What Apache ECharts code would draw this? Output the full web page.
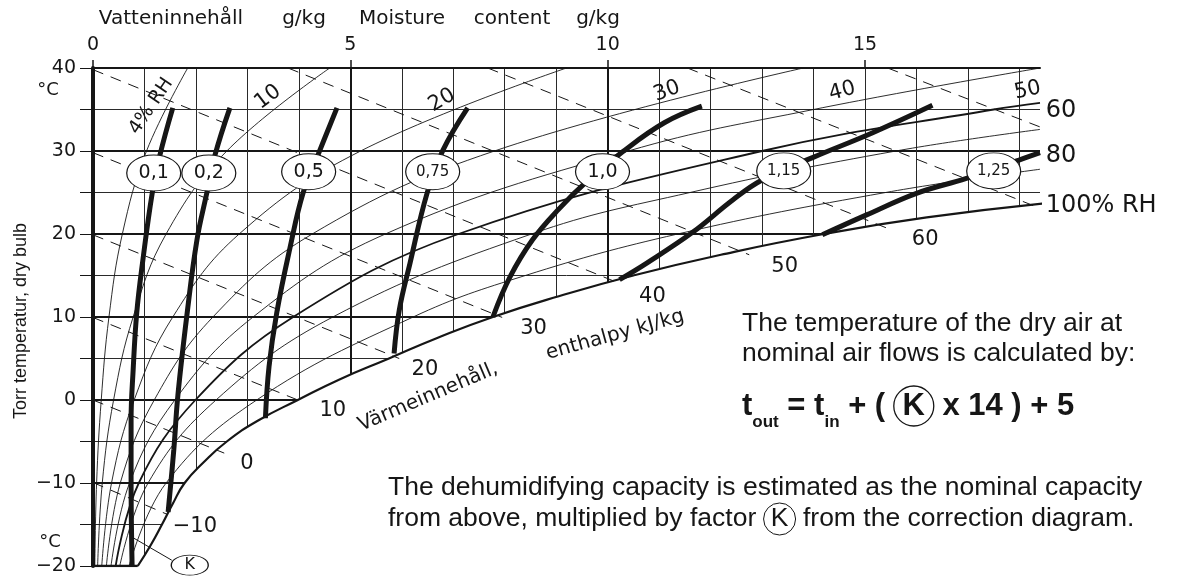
<!DOCTYPE html>
<html>
<head>
<meta charset="utf-8">
<title>Correction diagram</title>
<script src="https://cdn.jsdelivr.net/npm/echarts@6/dist/echarts.min.js"></script>
<style>
  html, body { margin: 0; padding: 0; background: #fff; }
  #main { width: 1179px; height: 580px; }
</style>
</head>
<body>
<div id="main"></div>
<script>
// x = moisture content g/kg, y = dry bulb temperature °C
var xTicks = [0, 5, 10, 15];

// 100 % RH curve
var saturation = [[0.87, -20], [1.12, -17.5], [1.34, -15], [1.55, -12.5], [1.78, -10], [2.15, -7.5], [2.6, -5], [3.2, -2.5],
  [3.98, 0], [4.8, 2.5], [5.75, 5], [6.7, 7.5], [7.77, 10], [9.05, 12.5], [10.5, 15], [12.2, 17.5], [14.2, 20], [16.2, 22], [18.5, 23.7]];

// relative humidity curves
var rhNames = ['4', '10', '20', '30', '40', '50', '60', '80'];
var rh4  = [[0.035, -20], [0.07, -10], [0.16, 0], [0.31, 10], [0.57, 20], [1.04, 30], [1.84, 40]];
var rh10 = [[0.09, -20], [0.18, -10], [0.40, 0], [0.78, 10], [1.42, 20], [2.6, 30], [4.6, 40]];
var rh20 = [[0.17, -20], [0.36, -10], [0.80, 0], [1.55, 10], [2.84, 20], [5.2, 30], [9.2, 40]];
var rh30 = [[0.26, -20], [0.53, -10], [1.19, 0], [2.33, 10], [4.26, 20], [7.8, 30], [13.8, 40]];
var rh40 = [[0.35, -20], [0.71, -10], [1.59, 0], [3.11, 10], [5.68, 20], [10.4, 30], [14.0, 35], [18.4, 40]];
var rh50 = [[0.44, -20], [0.89, -10], [1.99, 0], [3.89, 10], [7.1, 20], [13.0, 30], [17.5, 35], [18.4, 35.8]];
var rh60 = [[0.52, -20], [1.07, -10], [2.39, 0], [4.66, 10], [8.52, 20], [11.6, 25], [15.6, 30], [18.4, 32.6]];
var rh80 = [[0.70, -20], [1.42, -10], [3.18, 0], [6.22, 10], [8.4, 15], [11.36, 20], [15.4, 25], [18.4, 27.8]];
var rhCurves = [rh4, rh10, rh20, rh30, rh40, rh50, rh60, rh80];

// enthalpy kJ/kg, dashed lines
var enthalpy = [-10, 0, 10, 20, 30, 40, 50, 60, 70, 80];
var enthalpyFrom = [[0, -9.94], [0, 0], [0, 9.94], [0, 19.9], [0, 29.8], [0, 39.8], [3.79, 40], [7.67, 40], [11.55, 40], [15.44, 40]];
var enthalpyTo = [[1.45, -13.8], [2.55, -6.4], [4.1, -0.3], [5.95, 5.0], [7.95, 9.95], [10.25, 14.0], [12.75, 17.5], [15.45, 20.65], [18.4, 23.1], [18.4, 32.9]];

// correction factor K curves
var kNames = ['0,1', '0,2', '0,5', '0,75', '1,0', '1,15', '1,25'];
var k01  = [[1.55, 35.2], [1.30, 29.5], [1.15, 24.9], [0.97, 16.9], [0.85, 10.5], [0.78, 3.6], [0.74, -2.4], [0.74, -9.6], [0.76, -20]];
var k02  = [[2.66, 35.2], [2.37, 29.5], [2.21, 24.9], [2.02, 19.3], [1.83, 10.5], [1.65, 0.6], [1.57, -6.0], [1.46, -13.5]];
var k05  = [[4.74, 35.2], [4.37, 29.5], [4.08, 24.9], [3.83, 18.4], [3.57, 10.5], [3.42, 4.0], [3.35, -2.2]];
var k075 = [[7.28, 35.2], [6.80, 30.1], [6.49, 24.9], [6.16, 16.5], [5.95, 10.8], [5.85, 5.6]];
var k10  = [[11.83, 35.4], [11.1, 33.4], [10.29, 29.9], [9.59, 26.3], [9.05, 23.0], [8.54, 19.3], [8.10, 14.8], [7.77, 10.0]];
var k115 = [[16.31, 35.5], [15.15, 32.2], [13.98, 29.2], [13.0, 26.5], [12.43, 24.1], [11.65, 20.2], [10.76, 16.5], [10.23, 14.5]];
var k125 = [[14.17, 19.9], [15.03, 22.3], [16.0, 24.9], [16.97, 26.7], [17.99, 28.9], [18.4, 29.8]];
var kCurves = [k01, k02, k05, k075, k10, k115, k125];

// ---- annotation layout (data coordinates) ----
var kLabelAt = [[1.18, 27.35], [2.25, 27.35], [4.19, 27.5], [6.60, 27.5], [9.90, 27.5], [13.42, 27.6], [17.50, 27.6]];
var enthalpyLabelAt = [[1.98, -15.2], [2.99, -7.6], [4.66, -1.3], [6.45, 3.7], [8.56, 8.55], [10.87, 12.5], [13.44, 16.1], [16.17, 19.3]];
var rhLabels = [
  { t: '4% RH', at: [1.13, 35.4], rot: 56, size: 19 },
  { t: '10', at: [3.40, 36.5], rot: 37, size: 21 },
  { t: '20', at: [6.78, 36.1], rot: 30, size: 21 },
  { t: '30', at: [11.15, 37.2], rot: 20, size: 21 },
  { t: '40', at: [14.56, 37.2], rot: 15, size: 21 },
  { t: '50', at: [18.16, 37.3], rot: 12, size: 21 }
];
var rhEdgeLabels = [
  { t: '60', at: [18.5, 34.9], size: 24 },
  { t: '80', at: [18.5, 29.4], size: 24 },
  { t: '100% RH', at: [18.5, 23.4], size: 24 }
];

var tickFont = '"DejaVu Sans", sans-serif';
var textFont = '"Liberation Sans", Arial, sans-serif';
var ink = '#161616';

var series = [];

rhCurves.forEach(function (c, i) {
  series.push({
    type: 'line', name: rhNames[i] + '% RH', data: c, smooth: 0.4, symbol: 'none', z: 2, silent: true,
    lineStyle: { color: ink, width: rhNames[i] === '50' ? 1.8 : 0.9 }
  });
});

// saturation curve, white underneath so the grid stops at it
series.push({
  type: 'line', name: '100% RH', data: saturation, smooth: 0.5, symbol: 'none', z: 3, silent: true,
  lineStyle: { color: ink, width: 2.2 },
  areaStyle: { color: '#fff', opacity: 1, origin: 'start' }
});
series.push({
  type: 'line', data: [[0, -20], [saturation[0][0], -20]], symbol: 'none', z: 3, silent: true,
  lineStyle: { color: ink, width: 2.5 }
});

enthalpy.forEach(function (h, i) {
  series.push({
    type: 'line', name: 'h' + h, data: [enthalpyFrom[i], enthalpyTo[i]], symbol: 'none', z: 4, silent: true,
    lineStyle: { color: ink, width: 1, type: [11, 8] }
  });
});

kCurves.forEach(function (c, i) {
  series.push({
    type: 'line', name: 'K ' + kNames[i], data: c, smooth: 0.4, symbol: 'none', z: 5, silent: true,
    lineStyle: { color: ink, width: 5 }
  });
});

// leader from the 0,1 curve to the K mark
series.push({
  type: 'line', data: [[0.78, -16.6], [1.53, -19.3]], symbol: 'none', z: 5, silent: true,
  lineStyle: { color: ink, width: 1 }
});

series.push({
  type: 'scatter', z: 6, silent: true, clip: false,
  symbol: 'circle',
  itemStyle: { color: '#fff', borderColor: ink, borderWidth: 1, opacity: 1 },
  data: kNames.map(function (n, i) {
    return {
      name: n, value: kLabelAt[i], symbolSize: [54, 36],
      label: { fontSize: n.length > 3 ? 15 : 19 }
    };
  }).concat([{ name: 'K', value: [1.88, -19.9], symbolSize: [37, 20], label: { fontSize: 16 } }]),
  label: { show: true, position: 'inside', formatter: '{b}', color: ink, fontFamily: tickFont }
});

function textScatter(items, align) {
  return {
    type: 'scatter', z: 7, silent: true, clip: false, symbolSize: 1,
    itemStyle: { color: 'rgba(0,0,0,0)', opacity: 1 },
    data: items.map(function (d) {
      return { name: d.t, value: d.at, label: { rotate: d.rot || 0, fontSize: d.size || 21 } };
    }),
    label: {
      show: true, position: align === 'left' ? 'right' : 'inside', distance: 0, formatter: '{b}',
      color: ink, fontFamily: tickFont, fontSize: 21
    }
  };
}

series.push(textScatter(rhLabels));
series.push(textScatter(rhEdgeLabels, 'left'));
series.push(textScatter(enthalpy.slice(0, enthalpyLabelAt.length).map(function (h, i) {
  return { t: h < 0 ? '\u2212' + (-h) : String(h), at: enthalpyLabelAt[i] };
})));

function txt(x, y, s, size, opt) {
  opt = opt || {};
  return {
    type: 'text', x: x, y: y, rotation: opt.rot || 0, silent: true, z: 10,
    style: {
      text: s, fill: ink,
      font: (opt.weight || 'normal') + ' ' + size + 'px ' + (opt.family || tickFont),
      textAlign: opt.align || 'left', textVerticalAlign: 'middle',
      rich: opt.rich
    }
  };
}

var deg = Math.PI / 180;

var graphics = [
  txt(171, 19, 'Vatteninnehåll', 20, { align: 'center' }),
  txt(304, 19, 'g/kg', 20, { align: 'center' }),
  txt(402, 19, 'Moisture', 20, { align: 'center' }),
  txt(512, 19, 'content', 20, { align: 'center' }),
  txt(598, 19, 'g/kg', 20, { align: 'center' }),
  txt(48, 90, '°C', 18, { align: 'center' }),
  txt(50, 542, '°C', 18, { align: 'center' }),
  txt(21, 321, 'Torr temperatur, dry bulb', 18, { align: 'center', family: textFont, rot: 90 * deg }),
  txt(428, 397, 'Värmeinnehåll,', 20, { align: 'center', rot: 23 * deg }),
  txt(615, 335, 'enthalpy kJ/kg', 20, { align: 'center', rot: 15.5 * deg }),
  txt(742, 324, 'The temperature of the dry air at', 26.5, { family: textFont }),
  txt(742, 354, 'nominal air flows is calculated by:', 26.5, { family: textFont }),
  txt(742, 406, '{m|t}{s|out}{m| = t}{s|in}{m| + ( }{k|K}{m| x 14 ) + 5}', 31, {
    weight: 'bold', family: textFont,
    rich: {
      m: { fontSize: 31, fontWeight: 'bold', fontFamily: textFont, lineHeight: 34 },
      s: { fontSize: 17, fontWeight: 'bold', fontFamily: textFont, lineHeight: 50, verticalAlign: 'bottom' },
      k: { fontSize: 31, fontWeight: 'bold', fontFamily: textFont, width: 40, height: 40, lineHeight: 40,
           borderRadius: 20, borderWidth: 1.3, borderColor: ink, align: 'center' }
    }
  }),
  txt(388, 488, 'The dehumidifying capacity is estimated as the nominal capacity', 26.5, { family: textFont }),
  txt(388, 519, 'from above, multiplied by factor {k|K} from the correction diagram.', 26.5, {
    family: textFont,
    rich: {
      k: { fontSize: 26.5, fontFamily: textFont, width: 32, height: 32, lineHeight: 32,
           borderRadius: 16, borderWidth: 1, borderColor: ink, align: 'center' }
    }
  })
];

var chart = echarts.init(document.getElementById('main'));
chart.setOption({
  animation: false,
  backgroundColor: '#fff',
  grid: { left: 93, right: 139, top: 68, bottom: 14, containLabel: false },
  xAxis: [
    {
      type: 'value', position: 'top', min: 0, max: 18.4, interval: 1,
      axisLine: { show: false }, axisTick: { show: false }, axisLabel: { show: false },
      splitLine: { show: true, showMinLine: false, showMaxLine: false, lineStyle: { color: '#2a2a2a', width: 1 } }
    },
    {
      type: 'value', position: 'top', min: 0, max: 18.4, interval: 5,
      axisLine: { show: true, onZero: false, lineStyle: { color: ink, width: 2 } },
      axisTick: { show: true, length: 8, customValues: xTicks, lineStyle: { color: ink, width: 1.5 } },
      axisLabel: { show: true, customValues: xTicks, margin: 13, fontSize: 19, fontFamily: tickFont, color: ink },
      splitLine: { show: true, showMaxLine: false, lineStyle: { color: ink, width: 2 } }
    }
  ],
  yAxis: {
    type: 'value', min: -20, max: 40, interval: 10,
    axisLine: { show: true, onZero: false, lineStyle: { color: ink, width: 4 } },
    axisTick: { show: true, length: 13, lineStyle: { color: ink, width: 1 } },
    minorTick: { show: true, splitNumber: 2, length: 13, lineStyle: { color: ink, width: 1 } },
    axisLabel: {
      margin: 17, fontSize: 19, fontFamily: tickFont, color: ink,
      formatter: function (v) { return v < 0 ? '\u2212' + (-v) : String(v); }
    },
    splitLine: { show: true, showMinLine: false, lineStyle: { color: ink, width: 2 } },
    minorSplitLine: { show: true, lineStyle: { color: '#2a2a2a', width: 1 } }
  },
  series: series,
  graphic: { elements: graphics }
});
window.onresize = function () { chart.resize(); };
</script>
</body>
</html>
